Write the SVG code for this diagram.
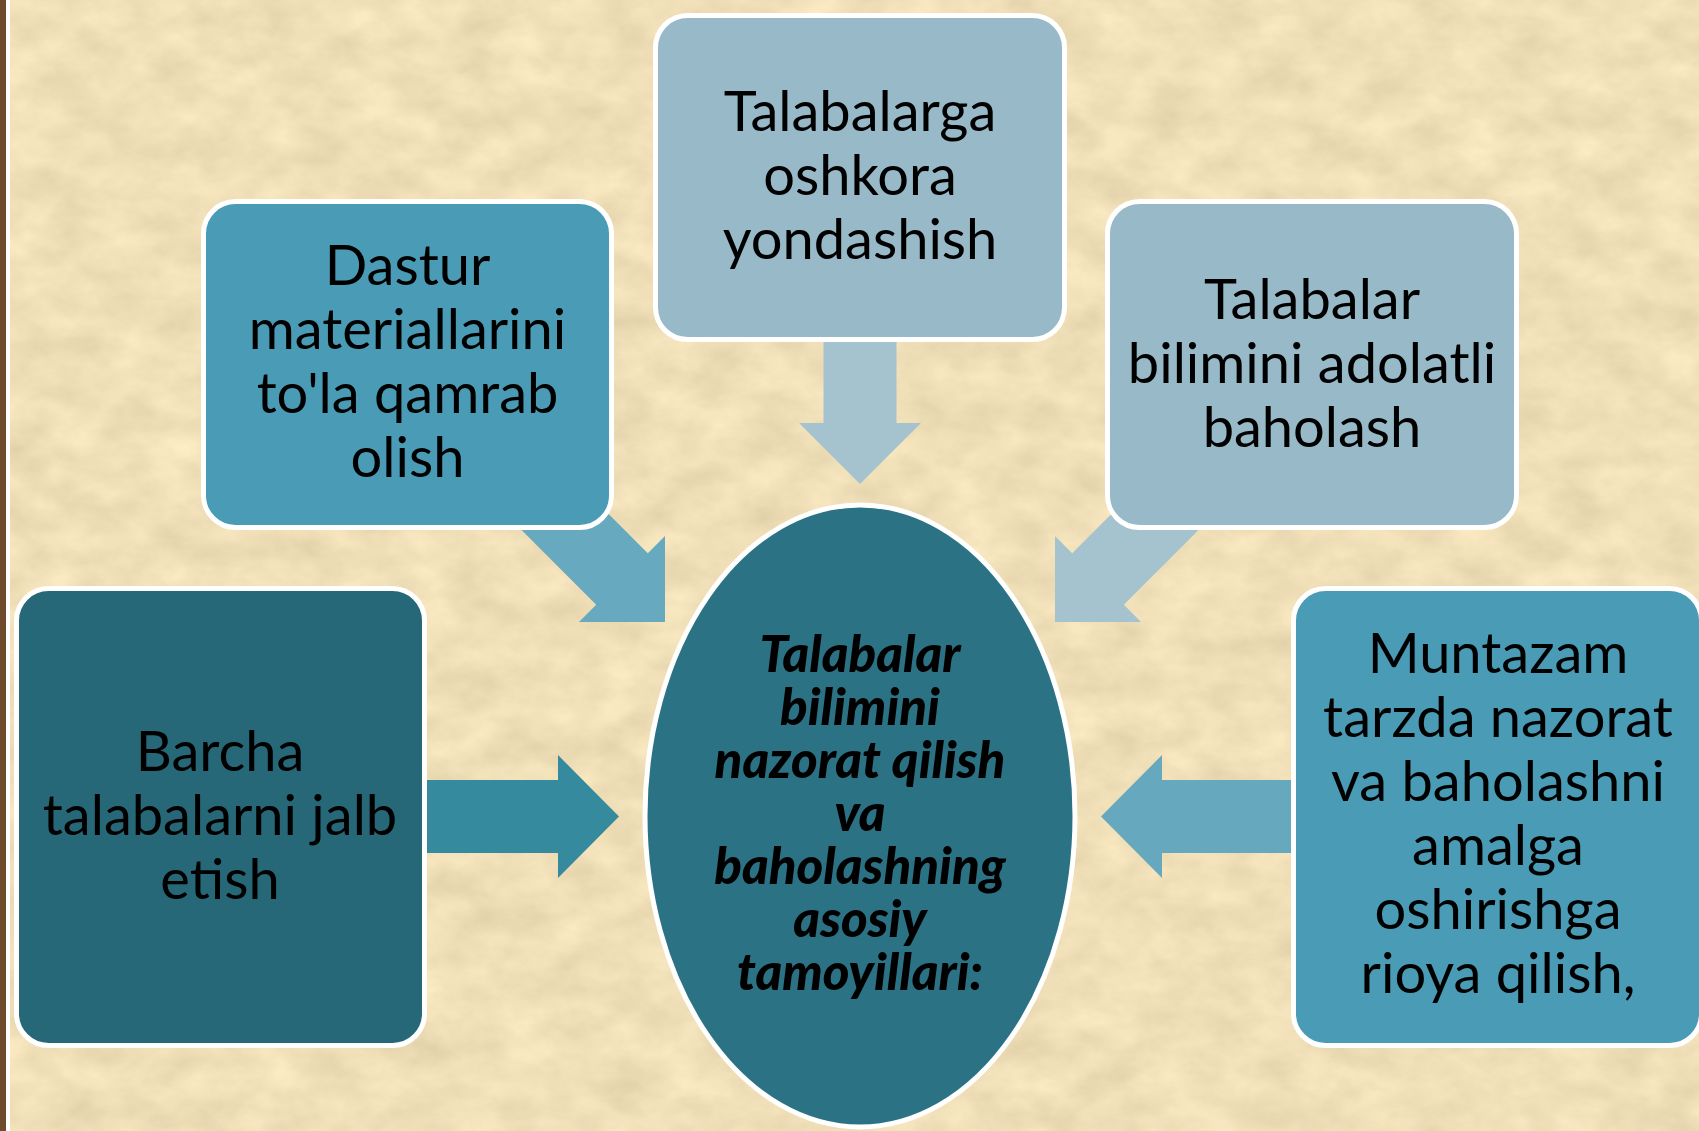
<svg xmlns="http://www.w3.org/2000/svg" width="1699" height="1131" viewBox="0 0 1699 1131">
<defs>
<filter id="paper" x="0" y="0" width="1699" height="1131" filterUnits="userSpaceOnUse" color-interpolation-filters="sRGB">
<feTurbulence type="fractalNoise" baseFrequency="0.02 0.03" numOctaves="5" seed="7" result="n"/>
<feColorMatrix in="n" type="matrix" values="0.13 0 0 0 0.875  0.13 0 0 0 0.81  0.13 0 0 0 0.655  0 0 0 0 1"/>
</filter>
<style>
.box{stroke:#FFFFFF;stroke-width:5}
.t{font-family:Lato,"Open Sans","Liberation Sans",sans-serif;font-size:56px;fill:#000;text-anchor:middle}
.c{font-family:Lato,"Open Sans","Liberation Sans",sans-serif;font-size:51px;font-weight:900;font-style:italic;fill:#000;text-anchor:middle}
</style>
</defs>
<rect x="0" y="0" width="1699" height="1131" fill="#EEDCB4"/>
<rect x="0" y="0" width="1699" height="1131" filter="url(#paper)"/>
<rect x="0" y="0" width="6" height="1131" fill="#6E4B2C"/>
<rect x="6" y="0" width="4" height="1131" fill="#FFFFFF"/>

<g id="connectors">
<polygon points="823.5,330 896.5,330 896.5,423 921,423 860,484 799,423 823.5,423" fill="#A5C3CF"/>
<polygon points="555.8,461.2 647.8,553.2 665,536 665,622 579,622 596.2,604.8 504.2,512.8" fill="#67A9BE"/>
<polygon points="1164.2,461.2 1072.2,553.2 1055,536 1055,622 1141,622 1123.8,604.8 1215.8,512.8" fill="#A5C3CF"/>
<polygon points="410,780 558,780 558,755 619,816.5 558,878 558,853 410,853" fill="#368A9E"/>
<polygon points="1310,780 1162,780 1162,755 1101,816.5 1162,878 1162,853 1310,853" fill="#66A9BE"/>
</g>

<g id="node-top">
<rect class="box" x="655.5" y="15.5" width="409" height="324" rx="32" fill="#97B9C8"/>
<text class="t" x="860" y="131">Talabalarga</text>
<text class="t" x="860" y="195">oshkora</text>
<text class="t" x="860" y="259">yondashish</text>
</g>

<g id="node-dastur">
<rect class="box" x="203.5" y="201.5" width="408" height="326" rx="32" fill="#4A9BB5"/>
<text class="t" x="407.5" y="285">Dastur</text>
<text class="t" x="407.5" y="349">materiallarini</text>
<text class="t" x="407.5" y="413">to'la qamrab</text>
<text class="t" x="407.5" y="477">olish</text>
</g>

<g id="node-adolatli">
<rect class="box" x="1107.5" y="201.5" width="409" height="326" rx="32" fill="#97B9C8"/>
<text class="t" x="1312" y="319">Talabalar</text>
<text class="t" x="1312" y="383">bilimini adolatli</text>
<text class="t" x="1312" y="447">baholash</text>
</g>

<g id="node-barcha">
<rect class="box" x="16.5" y="588.5" width="408" height="457" rx="32" fill="#266878"/>
<text class="t" x="220" y="771">Barcha</text>
<text class="t" x="220" y="835">talabalarni jalb</text>
<text class="t" x="220" y="899">etish</text>
</g>

<g id="node-muntazam">
<rect class="box" x="1293.5" y="588.5" width="408" height="457" rx="32" fill="#4A9BB5"/>
<text class="t" x="1498" y="673">Muntazam</text>
<text class="t" x="1498" y="737">tarzda nazorat</text>
<text class="t" x="1498" y="801">va baholashni</text>
<text class="t" x="1498" y="865">amalga</text>
<text class="t" x="1498" y="929">oshirishga</text>
<text class="t" x="1498" y="993">rioya qilish,</text>
</g>

<g id="node-center">
<ellipse class="box" cx="860" cy="816" rx="215" ry="311" fill="#2C7285"/>
<text class="c" x="860" y="672">Talabalar</text>
<text class="c" x="860" y="725">bilimini</text>
<text class="c" x="860" y="778">nazorat qilish</text>
<text class="c" x="860" y="831">va</text>
<text class="c" x="860" y="884">baholashning</text>
<text class="c" x="860" y="937">asosiy</text>
<text class="c" x="860" y="990">tamoyillari:</text>
</g>
</svg>
